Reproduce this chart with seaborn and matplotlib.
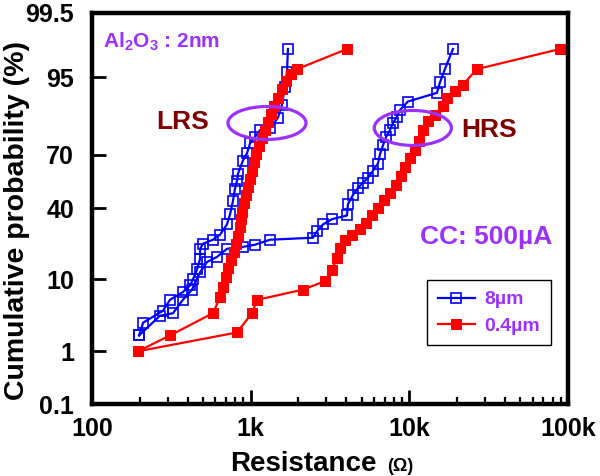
import math
from statistics import NormalDist
import numpy as np
import seaborn as sns
import matplotlib.pyplot as plt
from matplotlib.patches import Ellipse
from matplotlib.ticker import LogLocator, NullFormatter

plt.rcParams['font.family'] = ['Liberation Sans', 'DejaVu Sans']
plt.rcParams['mathtext.fontset'] = 'custom'
plt.rcParams['mathtext.bf'] = 'Liberation Sans:bold'
plt.rcParams['mathtext.rm'] = 'Liberation Sans:bold'

# resistance (ohm) / cumulative probability (%)
blue_lrs_r = [198, 210, 280, 310, 374, 415, 433, 459, 480, 480, 500, 578, 641, 709, 741,
              773, 796, 820, 832, 894, 948, 991, 1064, 1145, 1324, 1486, 1574, 1644, 1694, 1718]
blue_lrs_p = [1.8, 2.8, 4.1, 5.7, 7.1, 8.5, 10.0, 12.7, 16.2, 20.0, 22.1, 23.9, 26.2, 31.3, 36.6,
              44.0, 51.1, 55.7, 59.8, 66.9, 70.6, 75.4, 78.2, 81.0, 81.8, 85.5, 89.4, 93.3, 95.8, 98.0]

blue_hrs_r = [198, 268, 324, 374, 427, 480, 531, 614, 709, 894, 1064, 1324, 2472, 2618, 2858,
              3251, 4045, 4102, 4416, 4742, 5105, 5483, 5902, 6339, 6531, 6823, 7129, 7551,
              7888, 8358, 8730, 9795, 14930, 15600, 16760, 18830]
blue_hrs_p = [1.8, 3.5, 3.8, 5.7, 7.6, 11.9, 15.1, 16.9, 20.0, 20.8, 21.7, 23.9, 24.8, 27.8, 31.3,
              34.0, 36.0, 42.3, 47.6, 51.6, 54.6, 57.5, 61.4, 65.3, 70.1, 74.5, 78.2, 81.0,
              83.7, 85.8, 87.9, 90.2, 92.2, 94.2, 96.1, 98.0]

red_lrs_r = [195, 310, 578, 641, 669, 698, 719, 752, 785, 808, 832, 857, 869, 881, 908, 933,
             962, 991, 1019, 1050, 1079, 1127, 1178, 1230, 1285, 1343, 1403, 1486, 1574, 1667,
             1795, 1959, 4045]
red_lrs_p = [1.0, 1.8, 3.8, 6.1, 8.1, 10.6, 13.1, 15.8, 18.9, 22.1, 25.8, 29.8, 34.0, 38.1, 42.9, 47.6,
             52.2, 56.9, 61.4, 65.9, 70.1, 74.0, 77.7, 81.0, 84.1, 86.7, 89.1, 91.1, 92.9, 94.4,
             95.4, 96.1, 98.0]

red_hrs_r = [195, 820, 1019, 1100, 2138, 2938, 3251, 3499, 3656, 3926, 4346, 4887, 5321, 5808,
             6339, 6918, 7551, 8240, 8851, 9376, 10090, 10850, 11480, 12180, 13090, 14490,
             16290, 17260, 19370, 21760, 26680, 88900]
red_hrs_p = [1.0, 2.0, 3.8, 5.7, 7.6, 9.5, 12.5, 16.6, 20.4, 23.9, 26.2, 28.8, 31.8, 36.0,
             40.0, 44.6, 48.8, 53.4, 58.6, 63.7, 68.0, 72.1, 76.4, 81.0, 84.4, 86.4,
             88.9, 91.1, 92.5, 93.8, 96.1, 98.0]

y_ticks = [0.1, 1, 10, 40, 70, 95, 99.5]
y_labels = ['0.1', '1', '10', '40', '70', '95', '99.5']
x_ticks = [100, 1000, 10000, 100000]
x_labels = ['100', '1k', '10k', '100k']

purple = '#9b30ff'
darkred = '#800000'

_nd = NormalDist()
_ppf = np.vectorize(_nd.inv_cdf, otypes=[float])
_cdf = np.vectorize(lambda v: 50.0 * (1 + math.erf(v / math.sqrt(2))), otypes=[float])

def probit(p):
    p = np.clip(np.asarray(p, dtype=float) / 100.0, 1e-9, 1 - 1e-9)
    return _ppf(p)

def inv_probit(z):
    return _cdf(np.asarray(z, dtype=float))

fig = plt.figure(figsize=(6, 4.76), dpi=100)
ax = fig.add_axes([92/600, 1-404/476, 476/600, 391/476])

blue_kw = dict(color='#0000ff', marker='s', markersize=7, markerfacecolor='none',
               markeredgecolor='#0000ff', markeredgewidth=1.2, linewidth=1.6)
red_kw = dict(color='#ff0000', marker='s', markersize=7.5, markerfacecolor='#ff0000',
              markeredgecolor='#ff0000', linewidth=1.6)

sns.lineplot(x=blue_lrs_r, y=blue_lrs_p, sort=False, estimator=None, ax=ax, label='8\u00b5m', **blue_kw)
sns.lineplot(x=blue_hrs_r, y=blue_hrs_p, sort=False, estimator=None, ax=ax, **blue_kw)
sns.lineplot(x=red_lrs_r, y=red_lrs_p, sort=False, estimator=None, ax=ax, label='0.4\u00b5m', **red_kw)
sns.lineplot(x=red_hrs_r, y=red_hrs_p, sort=False, estimator=None, ax=ax, **red_kw)

ax.set_xscale('log')
ax.set_yscale('function', functions=(probit, inv_probit))
ax.set_xlim(100, 100000)
ax.set_ylim(0.1, 99.5)
ax.set_xticks(x_ticks)
ax.set_xticklabels(x_labels)
ax.xaxis.set_minor_locator(LogLocator(base=10, subs=np.arange(2, 10)))
ax.xaxis.set_minor_formatter(NullFormatter())
ax.set_yticks(y_ticks)
ax.set_yticklabels(y_labels)
ax.yaxis.set_minor_locator(plt.NullLocator())
ax.tick_params(which='major', direction='in', length=10, width=2, labelsize=18)
ax.tick_params(which='minor', direction='in', length=5, width=1.6)
ax.tick_params(axis='y', pad=13)
ax.tick_params(axis='x', pad=9)
for lab in ax.get_xticklabels() + ax.get_yticklabels():
    lab.set_fontweight('bold')
for s in ax.spines.values():
    s.set_linewidth(3.2)
ax.set_xlabel('')
ax.set_ylabel('')

fig.text(17/600, 1-220/476, 'Cumulative probability (%)', rotation=90, ha='center', va='center',
         fontsize=20.5, fontweight='bold')
fig.text(303/600, 1-471/476, 'Resistance', ha='center', va='baseline', fontsize=20, fontweight='bold')
fig.text(387/600, 1-471/476, '(\u03a9)', ha='left', va='baseline', fontsize=13, fontweight='bold')

ax.text(0.023, 0.926, r'Al$_\mathbf{2}$O$_\mathbf{3}$ : 2nm', transform=ax.transAxes,
        color=purple, fontsize=15, fontweight='bold', va='center', ha='left')
ax.text(0.191, 0.721, 'LRS', transform=ax.transAxes, color=darkred, fontsize=19,
        fontweight='bold', ha='center', va='center')
ax.text(0.834, 0.701, 'HRS', transform=ax.transAxes, color=darkred, fontsize=19,
        fontweight='bold', ha='center', va='center')
ax.text(0.828, 0.427, 'CC: 500\u00b5A', transform=ax.transAxes, color=purple, fontsize=19,
        fontweight='bold', ha='center', va='center')

ax.add_patch(Ellipse((0.3676, 0.7187), 0.164, 0.0844, transform=ax.transAxes, fill=False,
                     edgecolor=purple, linewidth=2.3, zorder=5))
ax.add_patch(Ellipse((0.674, 0.706), 0.162, 0.0895, transform=ax.transAxes, fill=False,
                     edgecolor=purple, linewidth=2.3, zorder=5))

leg = ax.legend(loc='upper left', bbox_to_anchor=(0.704, 0.317), borderaxespad=0,
                fancybox=False, framealpha=1, edgecolor='black', fontsize=14,
                handlelength=1.9, handletextpad=0.5, borderpad=0.55, labelspacing=0.45)
leg.get_frame().set_linewidth(1.0)
for t in leg.get_texts():
    t.set_color(purple)
    t.set_fontweight('bold')

fig.savefig('out.png', dpi=100)
